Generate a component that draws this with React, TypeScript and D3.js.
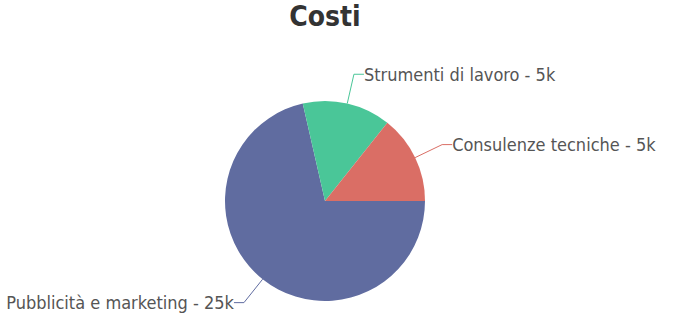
import React from "react";
import * as d3 from "d3";

const categories = ["Pubblicità e marketing", "Strumenti di lavoro", "Consulenze tecniche"];
const values = [25, 5, 5];
const valueLabels = ["25k", "5k", "5k"];
const colors = ["#606ca0", "#4ac698", "#da6e65"];
const title = "Costi";

const W = 674;
const H = 317;
const cx = 325;
const cy = 201;
const R = 100;
const FONT = "'DejaVu Sans Condensed', 'DejaVu Sans', sans-serif";

export default function App() {
  const pie = d3
    .pie<number>()
    .sort(null)
    .value((d) => d)
    .startAngle(Math.PI / 2)
    .endAngle(Math.PI / 2 + 2 * Math.PI);
  const arcs = pie(values);
  const arcGen = d3.arc<d3.PieArcDatum<number>>().innerRadius(0).outerRadius(R);
  return (
    <svg width={W} height={H} style={{ position: "absolute", left: 0, top: 0 }}>
      <rect width={W} height={H} fill="#fff" />
      <text x={cx} y={26} textAnchor="middle" fontFamily={FONT} fontWeight="bold" fontSize={28} fill="#333">
        {title}
      </text>
      <g transform={`translate(${cx},${cy})`}>
        {arcs.map((a, i) => (
          <path key={i} d={arcGen(a) || ""} fill={colors[i]} />
        ))}
        {arcs.map((a, i) => {
          const mid = (a.startAngle + a.endAngle) / 2;
          const sx = Math.sin(mid), sy = -Math.cos(mid);
          const p1 = [R * sx, R * sy];
          const p2 = [(R + 30) * sx, (R + 30) * sy];
          const dir = sx >= 0 ? 1 : -1;
          const p3 = [p2[0] + 10 * dir, p2[1]];
          return (
            <g key={"l" + i}>
              <polyline
                points={[p1, p2, p3].map((p) => p.join(",")).join(" ")}
                fill="none"
                stroke={colors[i]}
                strokeWidth={1}
              />
              <text
                x={p3[0]}
                y={p3[1]}
                dy="0.35em"
                textAnchor={dir > 0 ? "start" : "end"}
                fontFamily={FONT}
                fontSize={18}
                fill="#555"
              >
                {`${categories[i]} - ${valueLabels[i]}`}
              </text>
            </g>
          );
        })}
      </g>
    </svg>
  );
}
